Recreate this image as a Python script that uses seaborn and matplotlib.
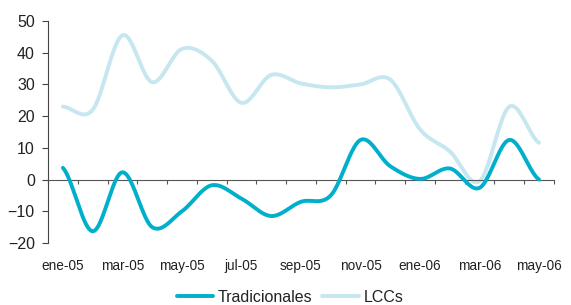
import numpy as np
import pandas as pd
import matplotlib
matplotlib.use("Agg")
import matplotlib.pyplot as plt
import seaborn as sns

months = ["ene-05", "feb-05", "mar-05", "abr-05", "may-05", "jun-05", "jul-05", "ago-05",
          "sep-05", "oct-05", "nov-05", "dic-05", "ene-06", "feb-06", "mar-06", "abr-06", "may-06"]
tradicionales = [3.7, -16.3, 2.3, -15.0, -10.0, -1.8, -6.0, -11.5, -7.0, -5.0, 12.5, 4.2, 0.2, 3.5, -2.6, 12.5, 0.0]
lccs = [23.0, 22.0, 45.5, 30.7, 41.2, 37.5, 24.2, 33.0, 30.3, 29.1, 30.0, 31.5, 15.8, 8.9, -0.5, 23.0, 11.6]
yticks = [-20, -10, 0, 10, 20, 30, 40, 50]

DARK = "#00AFCB"
LIGHT = "#C6E6F0"


def smooth(vals, steps=24):
    """Excel-style smoothed line drawing (Bezier through the data points)."""
    v = np.asarray(vals, dtype=float)
    n = len(v)
    xs, ys = [], []
    t = np.linspace(0, 1, steps, endpoint=False)
    for i in range(n - 1):
        p0 = v[i - 1] if i > 0 else v[i]
        p1, p2 = v[i], v[i + 1]
        p3 = v[i + 2] if i + 2 < n else v[i + 1]
        b1 = p1 + (p2 - p0) / 6.0
        b2 = p2 - (p3 - p1) / 6.0
        yy = (1 - t) ** 3 * p1 + 3 * (1 - t) ** 2 * t * b1 + 3 * (1 - t) * t ** 2 * b2 + t ** 3 * p2
        xx = i + t
        xs.extend(xx)
        ys.extend(yy)
    xs.append(n - 1)
    ys.append(v[-1])
    return np.array(xs), np.array(ys)


sns.set_style("white")
plt.rcParams["font.family"] = ["Liberation Sans", "DejaVu Sans"]

fig = plt.figure(figsize=(5.71, 3.05), dpi=100)
ax = fig.add_axes([48 / 571, 1 - 243 / 305, (554 - 48) / 571, (243 - 21) / 305])

xl, yl = smooth(lccs)
xt, yt = smooth(tradicionales)
sns.lineplot(x=xl, y=yl, ax=ax, color=LIGHT, lw=2.8, label="LCCs", sort=False, zorder=2)
sns.lineplot(x=xt, y=yt, ax=ax, color=DARK, lw=2.8, label="Tradicionales", sort=False, zorder=3)

ax.set_xlim(-0.5, len(months) - 0.5)
ax.set_ylim(-20, 50)
ax.set_yticks(yticks)
ax.tick_params(axis="y", direction="out", length=4, width=0.8, color="#444444",
               labelsize=11.5, labelcolor="#222222", pad=5.5, left=True)

ax.spines["top"].set_visible(False)
ax.spines["right"].set_visible(False)
ax.spines["left"].set_color("#444444")
ax.spines["left"].set_linewidth(0.8)
ax.spines["bottom"].set_position(("data", 0))
ax.spines["bottom"].set_color("#555555")
ax.spines["bottom"].set_linewidth(0.8)

ax.set_xticks(np.arange(-0.5, len(months)), minor=False)
ax.set_xticklabels([])
ax.set_xticks(np.arange(0, len(months), 2), minor=True)
ax.set_xticklabels(months[::2], minor=True)
ax.tick_params(axis="x", which="major", direction="out", length=3, width=0.8,
               color="#555555", bottom=True)
ax.tick_params(axis="x", which="minor", length=0, labelsize=9.8, labelcolor="#222222",
               pad=57, bottom=True)
ax.set_xlabel("")
ax.set_ylabel("")

ax.get_legend().remove()
handles, labels = ax.get_legend_handles_labels()
order = [labels.index("Tradicionales"), labels.index("LCCs")]
fig.legend([handles[i] for i in order], [labels[i] for i in order],
           loc="center", bbox_to_anchor=(290 / 571, 8 / 305), ncol=2, frameon=False,
           fontsize=11.5, handlelength=2.3, handletextpad=0.27, columnspacing=0.63,
           labelcolor="#222222", borderpad=0.2)

fig.savefig("out.png", dpi=100)
